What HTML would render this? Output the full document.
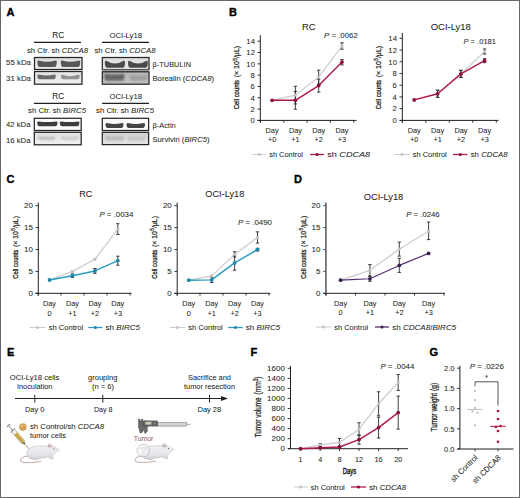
<!DOCTYPE html>
<html><head><meta charset="utf-8"><title>Figure</title>
<style>
html,body{margin:0;padding:0;background:#fff;}
body{width:520px;height:498px;overflow:hidden;}
svg{display:block;}
text{font-family:"Liberation Sans", sans-serif;fill:#231f20;stroke:#231f20;stroke-width:0.05px;}
</style></head><body>
<svg width="520" height="498" viewBox="0 0 520 498">
<defs><linearGradient id="mouseg" x1="0" y1="0" x2="0" y2="1"><stop offset="0" stop-color="#f0f0f3"/><stop offset="0.6" stop-color="#e6e6ea"/><stop offset="1" stop-color="#d2d2d8"/></linearGradient><filter id="bl" x="-20%" y="-60%" width="140%" height="220%"><feGaussianBlur stdDeviation="0.45"/></filter><filter id="bl2" x="-20%" y="-60%" width="140%" height="220%"><feGaussianBlur stdDeviation="0.9"/></filter></defs>
<rect x="0" y="0" width="520" height="498" fill="#fff"/>
<text x="6.40" y="15.80" font-size="11" font-weight="bold" style="fill:#000;stroke:#000;stroke-width:0.35px">A</text>
<text x="228.90" y="15.80" font-size="11" font-weight="bold" style="fill:#000;stroke:#000;stroke-width:0.35px">B</text>
<text x="6.40" y="182.90" font-size="11" font-weight="bold" style="fill:#000;stroke:#000;stroke-width:0.35px">C</text>
<text x="294.00" y="182.90" font-size="11" font-weight="bold" style="fill:#000;stroke:#000;stroke-width:0.35px">D</text>
<text x="6.90" y="355.80" font-size="11" font-weight="bold" style="fill:#000;stroke:#000;stroke-width:0.35px">E</text>
<text x="250.60" y="355.80" font-size="11" font-weight="bold" style="fill:#000;stroke:#000;stroke-width:0.35px">F</text>
<text x="429.50" y="355.80" font-size="11" font-weight="bold" style="fill:#000;stroke:#000;stroke-width:0.35px">G</text>
<text x="58.30" y="38.00" font-size="8.3" text-anchor="middle" >RC</text>
<line x1="34.00" y1="42.30" x2="81.00" y2="42.30" stroke="#231f20" stroke-width="1.3" />
<text x="125.70" y="38.00" font-size="8.0" text-anchor="middle" textLength="32.5" lengthAdjust="spacingAndGlyphs" >OCI-Ly18</text>
<line x1="102.00" y1="42.30" x2="149.00" y2="42.30" stroke="#231f20" stroke-width="1.3" />
<text x="27.00" y="52.50" font-size="7.4" textLength="61" lengthAdjust="spacingAndGlyphs" >sh Ctr. sh <tspan font-style="italic">CDCA8</tspan></text>
<text x="94.50" y="52.50" font-size="7.4" textLength="61" lengthAdjust="spacingAndGlyphs" >sh Ctr. sh <tspan font-style="italic">CDCA8</tspan></text>
<text x="6.00" y="65.00" font-size="7.4" textLength="25" lengthAdjust="spacingAndGlyphs" >55 kDa</text>
<text x="6.00" y="81.00" font-size="7.4" textLength="25" lengthAdjust="spacingAndGlyphs" >31 kDa</text>
<defs><linearGradient id="g15" x1="0" y1="0" x2="0" y2="1"><stop offset="0" stop-color="#dcdcdc"/><stop offset="1" stop-color="#ececec"/></linearGradient></defs>
<rect x="34.5" y="57.5" width="47.5" height="12.0" fill="url(#g15)"/>
<path d="M37.4,61.800000000000004 Q37.4,67.0 39.6,67.0 L54.599999999999994,67.0 Q56.8,67.0 56.8,61.800000000000004 Q56.8,60.6 55.4,60.6 Q47.099999999999994,62.99999999999999 38.8,60.6 Q37.4,60.6 37.4,61.800000000000004 Z" fill="#4a4a4a" opacity="0.9" filter="url(#bl)"/>
<path d="M60.8,61.800000000000004 Q60.8,67.0 63.0,67.0 L78.0,67.0 Q80.2,67.0 80.2,61.800000000000004 Q80.2,60.6 78.8,60.6 Q70.5,62.99999999999999 62.199999999999996,60.6 Q60.8,60.6 60.8,61.800000000000004 Z" fill="#4a4a4a" opacity="0.9" filter="url(#bl)"/>
<rect x="34.5" y="57.5" width="47.5" height="12.0" fill="none" stroke="#262626" stroke-width="1.25"/>
<defs><linearGradient id="g20" x1="0" y1="0" x2="0" y2="1"><stop offset="0" stop-color="#e2e2e2"/><stop offset="1" stop-color="#eeeeee"/></linearGradient></defs>
<rect x="34.5" y="71.5" width="47.5" height="12.700000000000003" fill="url(#g20)"/>
<path d="M37.4,75.8 Q37.4,79.2 39.6,79.2 L53.599999999999994,79.2 Q55.8,79.2 55.8,75.8 Q55.8,74.6 54.4,74.6 Q46.599999999999994,76.6 38.8,74.6 Q37.4,74.6 37.4,75.8 Z" fill="#4e4e4e" opacity="0.8" filter="url(#bl)"/>
<path d="M61.0,76.0 Q61.0,79.2 63.2,79.2 L77.39999999999999,79.2 Q79.6,79.2 79.6,76.0 Q79.6,74.8 78.19999999999999,74.8 Q70.3,77.60000000000001 62.4,74.8 Q61.0,74.8 61.0,76.0 Z" fill="#666" opacity="0.65" filter="url(#bl)"/>
<rect x="34.5" y="71.5" width="47.5" height="12.700000000000003" fill="none" stroke="#262626" stroke-width="1.25"/>
<defs><linearGradient id="g25" x1="0" y1="0" x2="0" y2="1"><stop offset="0" stop-color="#dedede"/><stop offset="1" stop-color="#e4e4e4"/></linearGradient></defs>
<rect x="102.3" y="57.5" width="46.7" height="12.099999999999994" fill="url(#g25)"/>
<path d="M104.9,62.0 Q104.9,67.8 107.10000000000001,67.8 L122.8,67.8 Q125.0,67.8 125.0,62.0 Q125.0,60.8 123.6,60.8 Q114.95,66.4 106.30000000000001,60.8 Q104.9,60.8 104.9,62.0 Z" fill="#3e3e3e" opacity="0.92" filter="url(#bl)"/>
<path d="M128.0,62.0 Q128.0,67.8 130.2,67.8 L145.60000000000002,67.8 Q147.8,67.8 147.8,62.0 Q147.8,60.8 146.4,60.8 Q137.9,66.4 129.4,60.8 Q128.0,60.8 128.0,62.0 Z" fill="#3e3e3e" opacity="0.92" filter="url(#bl)"/>
<rect x="102.3" y="57.5" width="46.7" height="12.099999999999994" fill="none" stroke="#262626" stroke-width="1.25"/>
<rect x="102.3" y="69.6" width="46.7" height="2.2" fill="#9a9a9a"/>
<defs><linearGradient id="g31" x1="0" y1="0" x2="0" y2="1"><stop offset="0" stop-color="#b8b8b8"/><stop offset="1" stop-color="#c2c2c2"/></linearGradient></defs>
<rect x="102.3" y="71.8" width="46.7" height="12.400000000000006" fill="url(#g31)"/>
<path d="M104.3,75.0 Q104.3,80.8 106.5,80.8 L122.3,80.8 Q124.5,80.8 124.5,75.0 Q124.5,73.8 123.1,73.8 Q114.4,74.8 105.7,73.8 Q104.3,73.8 104.3,75.0 Z" fill="#4a4a4a" opacity="0.75" filter="url(#bl2)"/>
<path d="M129.5,76.2 Q129.5,80.5 131.7,80.5 L145.3,80.5 Q147.5,80.5 147.5,76.2 Q147.5,75.0 146.1,75.0 Q138.5,76.0 130.9,75.0 Q129.5,75.0 129.5,76.2 Z" fill="#7a7a7a" opacity="0.45" filter="url(#bl2)"/>
<rect x="102.3" y="71.8" width="46.7" height="12.400000000000006" fill="none" stroke="#262626" stroke-width="1.25"/>
<text x="152.50" y="66.50" font-size="7.4" textLength="38.5" lengthAdjust="spacingAndGlyphs" >β-TUBULIN</text>
<text x="152.50" y="80.50" font-size="7.4" textLength="61.5" lengthAdjust="spacingAndGlyphs" >Borealin (<tspan font-style="italic">CDCA8</tspan>)</text>
<text x="58.30" y="99.00" font-size="8.3" text-anchor="middle" >RC</text>
<line x1="34.00" y1="103.30" x2="81.00" y2="103.30" stroke="#231f20" stroke-width="1.3" />
<text x="125.70" y="99.00" font-size="8.0" text-anchor="middle" textLength="32.5" lengthAdjust="spacingAndGlyphs" >OCI-Ly18</text>
<line x1="102.00" y1="103.30" x2="149.00" y2="103.30" stroke="#231f20" stroke-width="1.3" />
<text x="28.00" y="113.00" font-size="7.4" textLength="58" lengthAdjust="spacingAndGlyphs" >sh Ctr. sh <tspan font-style="italic">BIRC5</tspan></text>
<text x="96.00" y="113.00" font-size="7.4" textLength="58" lengthAdjust="spacingAndGlyphs" >sh Ctr. sh <tspan font-style="italic">BIRC5</tspan></text>
<text x="6.00" y="127.00" font-size="7.4" textLength="24.5" lengthAdjust="spacingAndGlyphs" >42 kDa</text>
<text x="6.00" y="143.00" font-size="7.4" textLength="24.5" lengthAdjust="spacingAndGlyphs" >16 kDa</text>
<rect x="34.3" y="118.3" width="46.900000000000006" height="12.200000000000003" fill="#fafafa"/>
<path d="M37.2,122.60000000000001 Q37.2,126.2 39.400000000000006,126.2 L55.3,126.2 Q57.5,126.2 57.5,122.60000000000001 Q57.5,121.4 56.1,121.4 Q47.35,122.4 38.6,121.4 Q37.2,121.4 37.2,122.60000000000001 Z" fill="#2e2e2e" opacity="0.92" filter="url(#bl)"/>
<path d="M59.8,122.60000000000001 Q59.8,126.2 62.0,126.2 L77.2,126.2 Q79.4,126.2 79.4,122.60000000000001 Q79.4,121.4 78.0,121.4 Q69.6,122.4 61.199999999999996,121.4 Q59.8,121.4 59.8,122.60000000000001 Z" fill="#2e2e2e" opacity="0.92" filter="url(#bl)"/>
<rect x="34.3" y="118.3" width="46.900000000000006" height="12.200000000000003" fill="none" stroke="#262626" stroke-width="1.25"/>
<defs><linearGradient id="g50" x1="0" y1="0" x2="0" y2="1"><stop offset="0" stop-color="#e2e2e2"/><stop offset="1" stop-color="#f0f0f0"/></linearGradient></defs>
<rect x="34.3" y="132.3" width="46.900000000000006" height="12.5" fill="url(#g50)"/>
<path d="M38.0,137.6 Q38.0,139.8 40.2,139.8 L53.3,139.8 Q55.5,139.8 55.5,137.6 Q55.5,136.4 54.1,136.4 Q46.75,137.20000000000002 39.4,136.4 Q38.0,136.4 38.0,137.6 Z" fill="#9a9a9a" opacity="0.6" filter="url(#bl2)"/>
<path d="M61.0,137.79999999999998 Q61.0,139.8 63.2,139.8 L76.3,139.8 Q78.5,139.8 78.5,137.79999999999998 Q78.5,136.6 77.1,136.6 Q69.75,137.4 62.4,136.6 Q61.0,136.6 61.0,137.79999999999998 Z" fill="#aaa" opacity="0.5" filter="url(#bl2)"/>
<rect x="34.3" y="132.3" width="46.900000000000006" height="12.5" fill="none" stroke="#262626" stroke-width="1.25"/>
<rect x="102.3" y="118.3" width="46.3" height="12.200000000000003" fill="#fbfbfb"/>
<path d="M105.5,124.2 Q105.5,128.0 107.7,128.0 L121.3,128.0 Q123.5,128.0 123.5,124.2 Q123.5,123.0 122.1,123.0 Q114.5,125.0 106.9,123.0 Q105.5,123.0 105.5,124.2 Z" fill="#333" opacity="0.9" filter="url(#bl)"/>
<path d="M126.5,124.2 Q126.5,128.0 128.7,128.0 L142.8,128.0 Q145.0,128.0 145.0,124.2 Q145.0,123.0 143.6,123.0 Q135.75,125.0 127.9,123.0 Q126.5,123.0 126.5,124.2 Z" fill="#333" opacity="0.9" filter="url(#bl)"/>
<rect x="102.3" y="118.3" width="46.3" height="12.200000000000003" fill="none" stroke="#262626" stroke-width="1.25"/>
<defs><linearGradient id="g59" x1="0" y1="0" x2="0" y2="1"><stop offset="0" stop-color="#d2d2d2"/><stop offset="1" stop-color="#e6e6e6"/></linearGradient></defs>
<rect x="102.3" y="132.3" width="46.3" height="12.299999999999983" fill="url(#g59)"/>
<path d="M105.0,137.0 Q105.0,140.8 107.2,140.8 L121.8,140.8 Q124.0,140.8 124.0,137.0 Q124.0,135.8 122.6,135.8 Q114.5,136.59999999999997 106.4,135.8 Q105.0,135.8 105.0,137.0 Z" fill="#a8a8a8" opacity="0.6" filter="url(#bl2)"/>
<path d="M127.5,137.5 Q127.5,140.8 129.7,140.8 L143.3,140.8 Q145.5,140.8 145.5,137.5 Q145.5,136.3 144.1,136.3 Q136.5,136.89999999999998 128.9,136.3 Q127.5,136.3 127.5,137.5 Z" fill="#b0b0b0" opacity="0.5" filter="url(#bl2)"/>
<rect x="102.3" y="132.3" width="46.3" height="12.299999999999983" fill="none" stroke="#262626" stroke-width="1.25"/>
<text x="152.50" y="127.50" font-size="7.4" >β-Actin</text>
<text x="152.50" y="141.50" font-size="7.4" textLength="57" lengthAdjust="spacingAndGlyphs" >Survivin (<tspan font-style="italic">BIRC5</tspan>)</text>
<text x="308.70" y="29.90" font-size="9.6" text-anchor="middle" textLength="13.6" lengthAdjust="spacingAndGlyphs" >RC</text>
<line x1="260.30" y1="35.20" x2="260.30" y2="122.60" stroke="#231f20" stroke-width="1.0" />
<line x1="257.50" y1="120.40" x2="260.30" y2="120.40" stroke="#231f20" stroke-width="0.9" />
<text x="254.90" y="123.15" font-size="6.4" text-anchor="end" textLength="4.27" lengthAdjust="spacingAndGlyphs" >0</text>
<line x1="257.50" y1="109.09" x2="260.30" y2="109.09" stroke="#231f20" stroke-width="0.9" />
<text x="254.90" y="111.84" font-size="6.4" text-anchor="end" textLength="4.27" lengthAdjust="spacingAndGlyphs" >2</text>
<line x1="257.50" y1="97.77" x2="260.30" y2="97.77" stroke="#231f20" stroke-width="0.9" />
<text x="254.90" y="100.52" font-size="6.4" text-anchor="end" textLength="4.27" lengthAdjust="spacingAndGlyphs" >4</text>
<line x1="257.50" y1="86.46" x2="260.30" y2="86.46" stroke="#231f20" stroke-width="0.9" />
<text x="254.90" y="89.21" font-size="6.4" text-anchor="end" textLength="4.27" lengthAdjust="spacingAndGlyphs" >6</text>
<line x1="257.50" y1="75.14" x2="260.30" y2="75.14" stroke="#231f20" stroke-width="0.9" />
<text x="254.90" y="77.90" font-size="6.4" text-anchor="end" textLength="4.27" lengthAdjust="spacingAndGlyphs" >8</text>
<line x1="257.50" y1="63.83" x2="260.30" y2="63.83" stroke="#231f20" stroke-width="0.9" />
<text x="254.90" y="66.58" font-size="6.4" text-anchor="end" textLength="8.54" lengthAdjust="spacingAndGlyphs" >10</text>
<line x1="257.50" y1="52.52" x2="260.30" y2="52.52" stroke="#231f20" stroke-width="0.9" />
<text x="254.90" y="55.27" font-size="6.4" text-anchor="end" textLength="8.54" lengthAdjust="spacingAndGlyphs" >12</text>
<line x1="257.50" y1="41.20" x2="260.30" y2="41.20" stroke="#231f20" stroke-width="0.9" />
<text x="254.90" y="43.95" font-size="6.4" text-anchor="end" textLength="8.54" lengthAdjust="spacingAndGlyphs" >14</text>
<line x1="257.70" y1="120.40" x2="356.50" y2="120.40" stroke="#231f20" stroke-width="1.0" />
<line x1="260.50" y1="120.40" x2="260.50" y2="122.70" stroke="#231f20" stroke-width="0.9" />
<line x1="283.80" y1="120.40" x2="283.80" y2="122.70" stroke="#231f20" stroke-width="0.9" />
<line x1="307.10" y1="120.40" x2="307.10" y2="122.70" stroke="#231f20" stroke-width="0.9" />
<line x1="330.40" y1="120.40" x2="330.40" y2="122.70" stroke="#231f20" stroke-width="0.9" />
<line x1="353.70" y1="120.40" x2="353.70" y2="122.70" stroke="#231f20" stroke-width="0.9" />
<polyline points="272.10,100.32 295.40,95.11 318.70,77.18 342.00,46.01" fill="none" stroke="#cbcbcb" stroke-width="1.2" stroke-linejoin="round"/>
<polyline points="272.10,100.32 295.40,100.32 318.70,85.61 342.00,62.08" fill="none" stroke="#b01a48" stroke-width="1.45" stroke-linejoin="round"/>
<line x1="295.40" y1="86.29" x2="295.40" y2="103.94" stroke="#2b2b2b" stroke-width="0.9" />
<line x1="293.70" y1="86.29" x2="297.10" y2="86.29" stroke="#2b2b2b" stroke-width="0.9" />
<line x1="293.70" y1="103.94" x2="297.10" y2="103.94" stroke="#2b2b2b" stroke-width="0.9" />
<line x1="318.70" y1="70.17" x2="318.70" y2="84.20" stroke="#2b2b2b" stroke-width="0.9" />
<line x1="317.00" y1="70.17" x2="320.40" y2="70.17" stroke="#2b2b2b" stroke-width="0.9" />
<line x1="317.00" y1="84.20" x2="320.40" y2="84.20" stroke="#2b2b2b" stroke-width="0.9" />
<line x1="342.00" y1="42.79" x2="342.00" y2="49.23" stroke="#2b2b2b" stroke-width="0.9" />
<line x1="340.30" y1="42.79" x2="343.70" y2="42.79" stroke="#2b2b2b" stroke-width="0.9" />
<line x1="340.30" y1="49.23" x2="343.70" y2="49.23" stroke="#2b2b2b" stroke-width="0.9" />
<line x1="295.40" y1="91.44" x2="295.40" y2="109.20" stroke="#2b2b2b" stroke-width="0.9" />
<line x1="293.70" y1="91.44" x2="297.10" y2="91.44" stroke="#2b2b2b" stroke-width="0.9" />
<line x1="293.70" y1="109.20" x2="297.10" y2="109.20" stroke="#2b2b2b" stroke-width="0.9" />
<line x1="318.70" y1="79.10" x2="318.70" y2="92.12" stroke="#2b2b2b" stroke-width="0.9" />
<line x1="317.00" y1="79.10" x2="320.40" y2="79.10" stroke="#2b2b2b" stroke-width="0.9" />
<line x1="317.00" y1="92.12" x2="320.40" y2="92.12" stroke="#2b2b2b" stroke-width="0.9" />
<line x1="342.00" y1="59.53" x2="342.00" y2="64.90" stroke="#2b2b2b" stroke-width="0.9" />
<line x1="340.30" y1="59.53" x2="343.70" y2="59.53" stroke="#2b2b2b" stroke-width="0.9" />
<line x1="340.30" y1="64.90" x2="343.70" y2="64.90" stroke="#2b2b2b" stroke-width="0.9" />
<rect x="270.65" y="98.87" width="2.9" height="2.9" fill="#c2c2c2"/>
<rect x="293.95" y="93.66" width="2.9" height="2.9" fill="#c2c2c2"/>
<rect x="317.25" y="75.73" width="2.9" height="2.9" fill="#c2c2c2"/>
<rect x="340.55" y="44.56" width="2.9" height="2.9" fill="#c2c2c2"/>
<circle cx="272.10" cy="100.32" r="1.9" fill="#8a1038"/>
<circle cx="295.40" cy="100.32" r="1.9" fill="#8a1038"/>
<circle cx="318.70" cy="85.61" r="1.9" fill="#8a1038"/>
<circle cx="342.00" cy="62.08" r="1.9" fill="#8a1038"/>
<text x="272.10" y="132.50" font-size="7.3" text-anchor="middle" >Day</text>
<text x="272.10" y="142.00" font-size="7.3" text-anchor="middle" >+0</text>
<text x="295.40" y="132.50" font-size="7.3" text-anchor="middle" >Day</text>
<text x="295.40" y="142.00" font-size="7.3" text-anchor="middle" >+1</text>
<text x="318.70" y="132.50" font-size="7.3" text-anchor="middle" >Day</text>
<text x="318.70" y="142.00" font-size="7.3" text-anchor="middle" >+2</text>
<text x="342.00" y="132.50" font-size="7.3" text-anchor="middle" >Day</text>
<text x="342.00" y="142.00" font-size="7.3" text-anchor="middle" >+3</text>
<text transform="translate(239.20,109.21) rotate(-90)" x="0" y="0" font-size="8.0" textLength="29.28" lengthAdjust="spacingAndGlyphs" style="stroke-width:0.3px">Cell counts</text>
<text transform="translate(239.20,77.24) rotate(-90)" x="0" y="0" font-size="7.8" textLength="31.35" lengthAdjust="spacingAndGlyphs" style="stroke-width:0.25px">(× 10<tspan dy="-2.7" dx="0.3" font-size="5.6">5</tspan><tspan dy="2.7">/μL)</tspan></text>
<text x="324.00" y="38.40" font-size="6.8" textLength="33.8" lengthAdjust="spacingAndGlyphs" ><tspan font-style="italic">P</tspan> = .0062</text>
<line x1="252.30" y1="154.50" x2="266.00" y2="154.50" stroke="#cbcbcb" stroke-width="1.0" />
<rect x="257.85" y="153.20" width="2.6" height="2.6" fill="#c2c2c2"/>
<text x="269.20" y="157.20" font-size="7.5" textLength="33.8" lengthAdjust="spacingAndGlyphs" >sh Control</text>
<line x1="310.00" y1="154.50" x2="324.00" y2="154.50" stroke="#b01a48" stroke-width="1.3" />
<circle cx="317.00" cy="154.50" r="1.6" fill="#8a1038"/>
<text x="327.20" y="157.20" font-size="7.5" textLength="43" lengthAdjust="spacingAndGlyphs" >sh <tspan font-style="italic">CDCA8</tspan></text>
<text x="450.75" y="29.90" font-size="9.6" text-anchor="middle" textLength="40" lengthAdjust="spacingAndGlyphs" >OCI-Ly18</text>
<line x1="402.30" y1="33.00" x2="402.30" y2="122.60" stroke="#231f20" stroke-width="1.0" />
<line x1="399.50" y1="120.40" x2="402.30" y2="120.40" stroke="#231f20" stroke-width="0.9" />
<text x="396.90" y="123.15" font-size="6.4" text-anchor="end" textLength="4.27" lengthAdjust="spacingAndGlyphs" >0</text>
<line x1="399.50" y1="108.67" x2="402.30" y2="108.67" stroke="#231f20" stroke-width="0.9" />
<text x="396.90" y="111.42" font-size="6.4" text-anchor="end" textLength="4.27" lengthAdjust="spacingAndGlyphs" >2</text>
<line x1="399.50" y1="96.94" x2="402.30" y2="96.94" stroke="#231f20" stroke-width="0.9" />
<text x="396.90" y="99.70" font-size="6.4" text-anchor="end" textLength="4.27" lengthAdjust="spacingAndGlyphs" >4</text>
<line x1="399.50" y1="85.22" x2="402.30" y2="85.22" stroke="#231f20" stroke-width="0.9" />
<text x="396.90" y="87.97" font-size="6.4" text-anchor="end" textLength="4.27" lengthAdjust="spacingAndGlyphs" >6</text>
<line x1="399.50" y1="73.49" x2="402.30" y2="73.49" stroke="#231f20" stroke-width="0.9" />
<text x="396.90" y="76.24" font-size="6.4" text-anchor="end" textLength="4.27" lengthAdjust="spacingAndGlyphs" >8</text>
<line x1="399.50" y1="61.76" x2="402.30" y2="61.76" stroke="#231f20" stroke-width="0.9" />
<text x="396.90" y="64.51" font-size="6.4" text-anchor="end" textLength="8.54" lengthAdjust="spacingAndGlyphs" >10</text>
<line x1="399.50" y1="50.03" x2="402.30" y2="50.03" stroke="#231f20" stroke-width="0.9" />
<text x="396.90" y="52.78" font-size="6.4" text-anchor="end" textLength="8.54" lengthAdjust="spacingAndGlyphs" >12</text>
<line x1="399.50" y1="38.30" x2="402.30" y2="38.30" stroke="#231f20" stroke-width="0.9" />
<text x="396.90" y="41.06" font-size="6.4" text-anchor="end" textLength="8.54" lengthAdjust="spacingAndGlyphs" >14</text>
<line x1="399.70" y1="120.40" x2="498.50" y2="120.40" stroke="#231f20" stroke-width="1.0" />
<line x1="402.30" y1="120.40" x2="402.30" y2="122.70" stroke="#231f20" stroke-width="0.9" />
<line x1="425.80" y1="120.40" x2="425.80" y2="122.70" stroke="#231f20" stroke-width="0.9" />
<line x1="449.30" y1="120.40" x2="449.30" y2="122.70" stroke="#231f20" stroke-width="0.9" />
<line x1="472.80" y1="120.40" x2="472.80" y2="122.70" stroke="#231f20" stroke-width="0.9" />
<line x1="496.30" y1="120.40" x2="496.30" y2="122.70" stroke="#231f20" stroke-width="0.9" />
<polyline points="414.20,99.88 437.60,93.78 460.90,73.90 484.60,51.50" fill="none" stroke="#cbcbcb" stroke-width="1.2" stroke-linejoin="round"/>
<polyline points="414.20,99.88 437.60,93.78 460.90,73.90 484.60,60.70" fill="none" stroke="#b01a48" stroke-width="1.45" stroke-linejoin="round"/>
<line x1="437.60" y1="90.26" x2="437.60" y2="97.30" stroke="#2b2b2b" stroke-width="0.9" />
<line x1="435.90" y1="90.26" x2="439.30" y2="90.26" stroke="#2b2b2b" stroke-width="0.9" />
<line x1="435.90" y1="97.30" x2="439.30" y2="97.30" stroke="#2b2b2b" stroke-width="0.9" />
<line x1="460.90" y1="70.38" x2="460.90" y2="77.42" stroke="#2b2b2b" stroke-width="0.9" />
<line x1="459.20" y1="70.38" x2="462.60" y2="70.38" stroke="#2b2b2b" stroke-width="0.9" />
<line x1="459.20" y1="77.42" x2="462.60" y2="77.42" stroke="#2b2b2b" stroke-width="0.9" />
<line x1="484.60" y1="48.98" x2="484.60" y2="54.02" stroke="#2b2b2b" stroke-width="0.9" />
<line x1="482.90" y1="48.98" x2="486.30" y2="48.98" stroke="#2b2b2b" stroke-width="0.9" />
<line x1="482.90" y1="54.02" x2="486.30" y2="54.02" stroke="#2b2b2b" stroke-width="0.9" />
<line x1="437.60" y1="90.26" x2="437.60" y2="97.30" stroke="#2b2b2b" stroke-width="0.9" />
<line x1="435.90" y1="90.26" x2="439.30" y2="90.26" stroke="#2b2b2b" stroke-width="0.9" />
<line x1="435.90" y1="97.30" x2="439.30" y2="97.30" stroke="#2b2b2b" stroke-width="0.9" />
<line x1="460.90" y1="70.38" x2="460.90" y2="77.42" stroke="#2b2b2b" stroke-width="0.9" />
<line x1="459.20" y1="70.38" x2="462.60" y2="70.38" stroke="#2b2b2b" stroke-width="0.9" />
<line x1="459.20" y1="77.42" x2="462.60" y2="77.42" stroke="#2b2b2b" stroke-width="0.9" />
<line x1="484.60" y1="58.71" x2="484.60" y2="62.70" stroke="#2b2b2b" stroke-width="0.9" />
<line x1="482.90" y1="58.71" x2="486.30" y2="58.71" stroke="#2b2b2b" stroke-width="0.9" />
<line x1="482.90" y1="62.70" x2="486.30" y2="62.70" stroke="#2b2b2b" stroke-width="0.9" />
<rect x="412.75" y="98.43" width="2.9" height="2.9" fill="#c2c2c2"/>
<rect x="436.15" y="92.33" width="2.9" height="2.9" fill="#c2c2c2"/>
<rect x="459.45" y="72.45" width="2.9" height="2.9" fill="#c2c2c2"/>
<rect x="483.15" y="50.05" width="2.9" height="2.9" fill="#c2c2c2"/>
<circle cx="414.20" cy="99.88" r="1.9" fill="#8a1038"/>
<circle cx="437.60" cy="93.78" r="1.9" fill="#8a1038"/>
<circle cx="460.90" cy="73.90" r="1.9" fill="#8a1038"/>
<circle cx="484.60" cy="60.70" r="1.9" fill="#8a1038"/>
<text x="414.20" y="132.50" font-size="7.3" text-anchor="middle" >Day</text>
<text x="414.20" y="142.00" font-size="7.3" text-anchor="middle" >+0</text>
<text x="437.60" y="132.50" font-size="7.3" text-anchor="middle" >Day</text>
<text x="437.60" y="142.00" font-size="7.3" text-anchor="middle" >+1</text>
<text x="460.90" y="132.50" font-size="7.3" text-anchor="middle" >Day</text>
<text x="460.90" y="142.00" font-size="7.3" text-anchor="middle" >+2</text>
<text x="484.60" y="132.50" font-size="7.3" text-anchor="middle" >Day</text>
<text x="484.60" y="142.00" font-size="7.3" text-anchor="middle" >+3</text>
<text transform="translate(380.80,109.21) rotate(-90)" x="0" y="0" font-size="8.0" textLength="29.28" lengthAdjust="spacingAndGlyphs" style="stroke-width:0.3px">Cell counts</text>
<text transform="translate(380.80,77.24) rotate(-90)" x="0" y="0" font-size="7.8" textLength="31.35" lengthAdjust="spacingAndGlyphs" style="stroke-width:0.25px">(× 10<tspan dy="-2.7" dx="0.3" font-size="5.6">5</tspan><tspan dy="2.7">/μL)</tspan></text>
<text x="463.50" y="44.00" font-size="6.8" textLength="32.5" lengthAdjust="spacingAndGlyphs" ><tspan font-style="italic">P</tspan> = .0181</text>
<line x1="394.50" y1="154.50" x2="409.50" y2="154.50" stroke="#cbcbcb" stroke-width="1.0" />
<rect x="400.70" y="153.20" width="2.6" height="2.6" fill="#c2c2c2"/>
<text x="412.70" y="157.20" font-size="7.5" textLength="34" lengthAdjust="spacingAndGlyphs" >sh Control</text>
<line x1="453.00" y1="154.50" x2="467.50" y2="154.50" stroke="#b01a48" stroke-width="1.3" />
<circle cx="460.25" cy="154.50" r="1.6" fill="#8a1038"/>
<text x="470.70" y="157.20" font-size="7.5" textLength="37" lengthAdjust="spacingAndGlyphs" >sh <tspan font-style="italic">CDCA8</tspan></text>
<text x="85.75" y="196.90" font-size="9.6" text-anchor="middle" textLength="13.2" lengthAdjust="spacingAndGlyphs" >RC</text>
<line x1="38.30" y1="202.50" x2="38.30" y2="295.60" stroke="#231f20" stroke-width="1.0" />
<line x1="35.50" y1="293.30" x2="38.30" y2="293.30" stroke="#231f20" stroke-width="0.9" />
<text x="32.90" y="296.05" font-size="6.4" text-anchor="end" textLength="4.45" lengthAdjust="spacingAndGlyphs" >0</text>
<line x1="35.50" y1="271.40" x2="38.30" y2="271.40" stroke="#231f20" stroke-width="0.9" />
<text x="32.90" y="274.15" font-size="6.4" text-anchor="end" textLength="4.45" lengthAdjust="spacingAndGlyphs" >5</text>
<line x1="35.50" y1="249.50" x2="38.30" y2="249.50" stroke="#231f20" stroke-width="0.9" />
<text x="32.90" y="252.25" font-size="6.4" text-anchor="end" textLength="8.9" lengthAdjust="spacingAndGlyphs" >10</text>
<line x1="35.50" y1="227.60" x2="38.30" y2="227.60" stroke="#231f20" stroke-width="0.9" />
<text x="32.90" y="230.35" font-size="6.4" text-anchor="end" textLength="8.9" lengthAdjust="spacingAndGlyphs" >15</text>
<line x1="35.50" y1="205.70" x2="38.30" y2="205.70" stroke="#231f20" stroke-width="0.9" />
<text x="32.90" y="208.45" font-size="6.4" text-anchor="end" textLength="8.9" lengthAdjust="spacingAndGlyphs" >20</text>
<line x1="35.50" y1="293.30" x2="131.50" y2="293.30" stroke="#231f20" stroke-width="1.0" />
<line x1="38.30" y1="293.30" x2="38.30" y2="295.60" stroke="#231f20" stroke-width="0.9" />
<line x1="61.00" y1="293.30" x2="61.00" y2="295.60" stroke="#231f20" stroke-width="0.9" />
<line x1="84.00" y1="293.30" x2="84.00" y2="295.60" stroke="#231f20" stroke-width="0.9" />
<line x1="107.00" y1="293.30" x2="107.00" y2="295.60" stroke="#231f20" stroke-width="0.9" />
<line x1="130.00" y1="293.30" x2="130.00" y2="295.60" stroke="#231f20" stroke-width="0.9" />
<polyline points="49.50,279.98 72.40,271.40 94.90,259.31 117.80,229.09" fill="none" stroke="#cbcbcb" stroke-width="1.2" stroke-linejoin="round"/>
<polyline points="49.50,279.98 72.40,275.69 94.90,270.92 117.80,260.71" fill="none" stroke="#2a9cc0" stroke-width="1.45" stroke-linejoin="round"/>
<line x1="117.80" y1="223.70" x2="117.80" y2="234.48" stroke="#2b2b2b" stroke-width="0.9" />
<line x1="116.10" y1="223.70" x2="119.50" y2="223.70" stroke="#2b2b2b" stroke-width="0.9" />
<line x1="116.10" y1="234.48" x2="119.50" y2="234.48" stroke="#2b2b2b" stroke-width="0.9" />
<line x1="72.40" y1="273.94" x2="72.40" y2="277.44" stroke="#2b2b2b" stroke-width="0.9" />
<line x1="70.70" y1="273.94" x2="74.10" y2="273.94" stroke="#2b2b2b" stroke-width="0.9" />
<line x1="70.70" y1="277.44" x2="74.10" y2="277.44" stroke="#2b2b2b" stroke-width="0.9" />
<line x1="94.90" y1="268.47" x2="94.90" y2="273.37" stroke="#2b2b2b" stroke-width="0.9" />
<line x1="93.20" y1="268.47" x2="96.60" y2="268.47" stroke="#2b2b2b" stroke-width="0.9" />
<line x1="93.20" y1="273.37" x2="96.60" y2="273.37" stroke="#2b2b2b" stroke-width="0.9" />
<line x1="117.80" y1="256.20" x2="117.80" y2="265.22" stroke="#2b2b2b" stroke-width="0.9" />
<line x1="116.10" y1="256.20" x2="119.50" y2="256.20" stroke="#2b2b2b" stroke-width="0.9" />
<line x1="116.10" y1="265.22" x2="119.50" y2="265.22" stroke="#2b2b2b" stroke-width="0.9" />
<rect x="48.05" y="278.53" width="2.9" height="2.9" fill="#c2c2c2"/>
<rect x="70.95" y="269.95" width="2.9" height="2.9" fill="#c2c2c2"/>
<rect x="93.45" y="257.86" width="2.9" height="2.9" fill="#c2c2c2"/>
<rect x="116.35" y="227.64" width="2.9" height="2.9" fill="#c2c2c2"/>
<circle cx="49.50" cy="279.98" r="1.9" fill="#1f88aa"/>
<circle cx="72.40" cy="275.69" r="1.9" fill="#1f88aa"/>
<circle cx="94.90" cy="270.92" r="1.9" fill="#1f88aa"/>
<circle cx="117.80" cy="260.71" r="1.9" fill="#1f88aa"/>
<text x="49.50" y="306.00" font-size="7.3" text-anchor="middle" >Day</text>
<text x="49.50" y="316.00" font-size="7.3" text-anchor="middle" >0</text>
<text x="72.40" y="306.00" font-size="7.3" text-anchor="middle" >Day</text>
<text x="72.40" y="316.00" font-size="7.3" text-anchor="middle" >+1</text>
<text x="94.90" y="306.00" font-size="7.3" text-anchor="middle" >Day</text>
<text x="94.90" y="316.00" font-size="7.3" text-anchor="middle" >+2</text>
<text x="117.80" y="306.00" font-size="7.3" text-anchor="middle" >Day</text>
<text x="117.80" y="316.00" font-size="7.3" text-anchor="middle" >+3</text>
<text transform="translate(17.90,278.71) rotate(-90)" x="0" y="0" font-size="8.0" textLength="29.00" lengthAdjust="spacingAndGlyphs" style="stroke-width:0.3px">Cell counts</text>
<text transform="translate(17.90,247.04) rotate(-90)" x="0" y="0" font-size="7.8" textLength="31.05" lengthAdjust="spacingAndGlyphs" style="stroke-width:0.25px">(× 10<tspan dy="-2.7" dx="0.3" font-size="5.6">5</tspan><tspan dy="2.7">/μL)</tspan></text>
<text x="99.40" y="217.00" font-size="6.8" textLength="34" lengthAdjust="spacingAndGlyphs" ><tspan font-style="italic">P</tspan> = .0034</text>
<line x1="29.80" y1="327.50" x2="45.50" y2="327.50" stroke="#cbcbcb" stroke-width="1.0" />
<rect x="36.35" y="326.20" width="2.6" height="2.6" fill="#c2c2c2"/>
<text x="48.70" y="330.20" font-size="7.5" textLength="34.5" lengthAdjust="spacingAndGlyphs" >sh Control</text>
<line x1="88.30" y1="327.50" x2="102.40" y2="327.50" stroke="#2a9cc0" stroke-width="1.3" />
<circle cx="95.35" cy="327.50" r="1.6" fill="#1f88aa"/>
<text x="105.60" y="330.20" font-size="7.5" textLength="34.5" lengthAdjust="spacingAndGlyphs" >sh <tspan font-style="italic">BIRC5</tspan></text>
<text x="224.75" y="196.90" font-size="9.6" text-anchor="middle" textLength="39" lengthAdjust="spacingAndGlyphs" >OCI-Ly18</text>
<line x1="177.20" y1="202.50" x2="177.20" y2="295.60" stroke="#231f20" stroke-width="1.0" />
<line x1="174.40" y1="293.30" x2="177.20" y2="293.30" stroke="#231f20" stroke-width="0.9" />
<text x="171.80" y="296.05" font-size="6.4" text-anchor="end" textLength="4.45" lengthAdjust="spacingAndGlyphs" >0</text>
<line x1="174.40" y1="271.40" x2="177.20" y2="271.40" stroke="#231f20" stroke-width="0.9" />
<text x="171.80" y="274.15" font-size="6.4" text-anchor="end" textLength="4.45" lengthAdjust="spacingAndGlyphs" >5</text>
<line x1="174.40" y1="249.50" x2="177.20" y2="249.50" stroke="#231f20" stroke-width="0.9" />
<text x="171.80" y="252.25" font-size="6.4" text-anchor="end" textLength="8.9" lengthAdjust="spacingAndGlyphs" >10</text>
<line x1="174.40" y1="227.60" x2="177.20" y2="227.60" stroke="#231f20" stroke-width="0.9" />
<text x="171.80" y="230.35" font-size="6.4" text-anchor="end" textLength="8.9" lengthAdjust="spacingAndGlyphs" >15</text>
<line x1="174.40" y1="205.70" x2="177.20" y2="205.70" stroke="#231f20" stroke-width="0.9" />
<text x="171.80" y="208.45" font-size="6.4" text-anchor="end" textLength="8.9" lengthAdjust="spacingAndGlyphs" >20</text>
<line x1="174.40" y1="293.30" x2="270.50" y2="293.30" stroke="#231f20" stroke-width="1.0" />
<line x1="177.20" y1="293.30" x2="177.20" y2="295.60" stroke="#231f20" stroke-width="0.9" />
<line x1="200.00" y1="293.30" x2="200.00" y2="295.60" stroke="#231f20" stroke-width="0.9" />
<line x1="223.00" y1="293.30" x2="223.00" y2="295.60" stroke="#231f20" stroke-width="0.9" />
<line x1="246.00" y1="293.30" x2="246.00" y2="295.60" stroke="#231f20" stroke-width="0.9" />
<line x1="269.00" y1="293.30" x2="269.00" y2="295.60" stroke="#231f20" stroke-width="0.9" />
<polyline points="188.80,280.20 211.70,275.91 234.60,254.41 257.50,237.50" fill="none" stroke="#cbcbcb" stroke-width="1.2" stroke-linejoin="round"/>
<polyline points="188.80,280.20 211.70,279.90 234.60,262.90 257.50,249.59" fill="none" stroke="#2a9cc0" stroke-width="1.45" stroke-linejoin="round"/>
<line x1="234.60" y1="251.78" x2="234.60" y2="257.03" stroke="#2b2b2b" stroke-width="0.9" />
<line x1="232.90" y1="251.78" x2="236.30" y2="251.78" stroke="#2b2b2b" stroke-width="0.9" />
<line x1="232.90" y1="257.03" x2="236.30" y2="257.03" stroke="#2b2b2b" stroke-width="0.9" />
<line x1="257.50" y1="231.89" x2="257.50" y2="243.11" stroke="#2b2b2b" stroke-width="0.9" />
<line x1="255.80" y1="231.89" x2="259.20" y2="231.89" stroke="#2b2b2b" stroke-width="0.9" />
<line x1="255.80" y1="243.11" x2="259.20" y2="243.11" stroke="#2b2b2b" stroke-width="0.9" />
<line x1="211.70" y1="277.27" x2="211.70" y2="282.53" stroke="#2b2b2b" stroke-width="0.9" />
<line x1="210.00" y1="277.27" x2="213.40" y2="277.27" stroke="#2b2b2b" stroke-width="0.9" />
<line x1="210.00" y1="282.53" x2="213.40" y2="282.53" stroke="#2b2b2b" stroke-width="0.9" />
<line x1="234.60" y1="255.59" x2="234.60" y2="270.22" stroke="#2b2b2b" stroke-width="0.9" />
<line x1="232.90" y1="255.59" x2="236.30" y2="255.59" stroke="#2b2b2b" stroke-width="0.9" />
<line x1="232.90" y1="270.22" x2="236.30" y2="270.22" stroke="#2b2b2b" stroke-width="0.9" />
<line x1="257.50" y1="248.27" x2="257.50" y2="250.90" stroke="#2b2b2b" stroke-width="0.9" />
<line x1="255.80" y1="248.27" x2="259.20" y2="248.27" stroke="#2b2b2b" stroke-width="0.9" />
<line x1="255.80" y1="250.90" x2="259.20" y2="250.90" stroke="#2b2b2b" stroke-width="0.9" />
<rect x="187.35" y="278.75" width="2.9" height="2.9" fill="#c2c2c2"/>
<rect x="210.25" y="274.46" width="2.9" height="2.9" fill="#c2c2c2"/>
<rect x="233.15" y="252.96" width="2.9" height="2.9" fill="#c2c2c2"/>
<rect x="256.05" y="236.05" width="2.9" height="2.9" fill="#c2c2c2"/>
<circle cx="188.80" cy="280.20" r="1.9" fill="#1f88aa"/>
<circle cx="211.70" cy="279.90" r="1.9" fill="#1f88aa"/>
<circle cx="234.60" cy="262.90" r="1.9" fill="#1f88aa"/>
<circle cx="257.50" cy="249.59" r="1.9" fill="#1f88aa"/>
<rect x="255.80" y="247.89" width="3.4" height="3.4" fill="#1f88aa"/>
<text x="188.80" y="306.00" font-size="7.3" text-anchor="middle" >Day</text>
<text x="188.80" y="316.00" font-size="7.3" text-anchor="middle" >0</text>
<text x="211.70" y="306.00" font-size="7.3" text-anchor="middle" >Day</text>
<text x="211.70" y="316.00" font-size="7.3" text-anchor="middle" >+1</text>
<text x="234.60" y="306.00" font-size="7.3" text-anchor="middle" >Day</text>
<text x="234.60" y="316.00" font-size="7.3" text-anchor="middle" >+2</text>
<text x="257.50" y="306.00" font-size="7.3" text-anchor="middle" >Day</text>
<text x="257.50" y="316.00" font-size="7.3" text-anchor="middle" >+3</text>
<text transform="translate(156.80,278.71) rotate(-90)" x="0" y="0" font-size="8.0" textLength="29.00" lengthAdjust="spacingAndGlyphs" style="stroke-width:0.3px">Cell counts</text>
<text transform="translate(156.80,247.04) rotate(-90)" x="0" y="0" font-size="7.8" textLength="31.05" lengthAdjust="spacingAndGlyphs" style="stroke-width:0.25px">(× 10<tspan dy="-2.7" dx="0.3" font-size="5.6">5</tspan><tspan dy="2.7">/μL)</tspan></text>
<text x="238.00" y="224.50" font-size="6.8" textLength="34" lengthAdjust="spacingAndGlyphs" ><tspan font-style="italic">P</tspan> = .0490</text>
<line x1="169.80" y1="327.50" x2="185.00" y2="327.50" stroke="#cbcbcb" stroke-width="1.0" />
<rect x="176.10" y="326.20" width="2.6" height="2.6" fill="#c2c2c2"/>
<text x="188.20" y="330.20" font-size="7.5" textLength="34.5" lengthAdjust="spacingAndGlyphs" >sh Control</text>
<line x1="228.20" y1="327.50" x2="242.60" y2="327.50" stroke="#2a9cc0" stroke-width="1.3" />
<circle cx="235.40" cy="327.50" r="1.6" fill="#1f88aa"/>
<text x="245.80" y="330.20" font-size="7.5" textLength="34.5" lengthAdjust="spacingAndGlyphs" >sh <tspan font-style="italic">BIRC5</tspan></text>
<text x="383.50" y="199.90" font-size="9.6" text-anchor="middle" textLength="39.5" lengthAdjust="spacingAndGlyphs" >OCI-Ly18</text>
<line x1="325.90" y1="202.40" x2="325.90" y2="295.60" stroke="#4a4a4a" stroke-width="1.4" />
<line x1="323.10" y1="293.30" x2="325.90" y2="293.30" stroke="#4a4a4a" stroke-width="0.9" />
<text x="320.50" y="296.05" font-size="6.4" text-anchor="end" textLength="4.45" lengthAdjust="spacingAndGlyphs" >0</text>
<line x1="323.10" y1="271.40" x2="325.90" y2="271.40" stroke="#4a4a4a" stroke-width="0.9" />
<text x="320.50" y="274.15" font-size="6.4" text-anchor="end" textLength="4.45" lengthAdjust="spacingAndGlyphs" >5</text>
<line x1="323.10" y1="249.50" x2="325.90" y2="249.50" stroke="#4a4a4a" stroke-width="0.9" />
<text x="320.50" y="252.25" font-size="6.4" text-anchor="end" textLength="8.9" lengthAdjust="spacingAndGlyphs" >10</text>
<line x1="323.10" y1="227.60" x2="325.90" y2="227.60" stroke="#4a4a4a" stroke-width="0.9" />
<text x="320.50" y="230.35" font-size="6.4" text-anchor="end" textLength="8.9" lengthAdjust="spacingAndGlyphs" >15</text>
<line x1="323.10" y1="205.70" x2="325.90" y2="205.70" stroke="#4a4a4a" stroke-width="0.9" />
<text x="320.50" y="208.45" font-size="6.4" text-anchor="end" textLength="8.9" lengthAdjust="spacingAndGlyphs" >20</text>
<line x1="323.30" y1="293.30" x2="445.00" y2="293.30" stroke="#231f20" stroke-width="1.0" />
<line x1="326.00" y1="293.30" x2="326.00" y2="295.60" stroke="#231f20" stroke-width="0.9" />
<line x1="355.50" y1="293.30" x2="355.50" y2="295.60" stroke="#231f20" stroke-width="0.9" />
<line x1="385.00" y1="293.30" x2="385.00" y2="295.60" stroke="#231f20" stroke-width="0.9" />
<line x1="414.50" y1="293.30" x2="414.50" y2="295.60" stroke="#231f20" stroke-width="0.9" />
<line x1="444.00" y1="293.30" x2="444.00" y2="295.60" stroke="#231f20" stroke-width="0.9" />
<polyline points="340.60,280.16 369.90,270.31 399.30,249.11 428.60,231.19" fill="none" stroke="#cbcbcb" stroke-width="1.2" stroke-linejoin="round"/>
<polyline points="340.60,280.16 369.90,278.80 399.30,265.40 428.60,253.40" fill="none" stroke="#523072" stroke-width="1.15" stroke-linejoin="round"/>
<line x1="369.90" y1="264.61" x2="369.90" y2="276.00" stroke="#2b2b2b" stroke-width="0.9" />
<line x1="368.20" y1="264.61" x2="371.60" y2="264.61" stroke="#2b2b2b" stroke-width="0.9" />
<line x1="368.20" y1="276.00" x2="371.60" y2="276.00" stroke="#2b2b2b" stroke-width="0.9" />
<line x1="399.30" y1="242.10" x2="399.30" y2="256.11" stroke="#2b2b2b" stroke-width="0.9" />
<line x1="397.60" y1="242.10" x2="401.00" y2="242.10" stroke="#2b2b2b" stroke-width="0.9" />
<line x1="397.60" y1="256.11" x2="401.00" y2="256.11" stroke="#2b2b2b" stroke-width="0.9" />
<line x1="428.60" y1="222.08" x2="428.60" y2="239.60" stroke="#2b2b2b" stroke-width="0.9" />
<line x1="426.90" y1="222.08" x2="430.30" y2="222.08" stroke="#2b2b2b" stroke-width="0.9" />
<line x1="426.90" y1="239.60" x2="430.30" y2="239.60" stroke="#2b2b2b" stroke-width="0.9" />
<line x1="369.90" y1="276.31" x2="369.90" y2="281.30" stroke="#2b2b2b" stroke-width="0.9" />
<line x1="368.20" y1="276.31" x2="371.60" y2="276.31" stroke="#2b2b2b" stroke-width="0.9" />
<line x1="368.20" y1="281.30" x2="371.60" y2="281.30" stroke="#2b2b2b" stroke-width="0.9" />
<line x1="399.30" y1="258.39" x2="399.30" y2="272.41" stroke="#2b2b2b" stroke-width="0.9" />
<line x1="397.60" y1="258.39" x2="401.00" y2="258.39" stroke="#2b2b2b" stroke-width="0.9" />
<line x1="397.60" y1="272.41" x2="401.00" y2="272.41" stroke="#2b2b2b" stroke-width="0.9" />
<rect x="339.15" y="278.71" width="2.9" height="2.9" fill="#c2c2c2"/>
<rect x="368.45" y="268.86" width="2.9" height="2.9" fill="#c2c2c2"/>
<rect x="397.85" y="247.66" width="2.9" height="2.9" fill="#c2c2c2"/>
<rect x="427.15" y="229.74" width="2.9" height="2.9" fill="#c2c2c2"/>
<circle cx="340.60" cy="280.16" r="1.9" fill="#3a2150"/>
<circle cx="369.90" cy="278.80" r="1.9" fill="#3a2150"/>
<circle cx="399.30" cy="265.40" r="1.9" fill="#3a2150"/>
<circle cx="428.60" cy="253.40" r="1.9" fill="#3a2150"/>
<text x="340.60" y="306.00" font-size="7.3" text-anchor="middle" >Day</text>
<text x="340.60" y="315.10" font-size="7.3" text-anchor="middle" >0</text>
<text x="369.90" y="306.00" font-size="7.3" text-anchor="middle" >Day</text>
<text x="369.90" y="315.10" font-size="7.3" text-anchor="middle" >+1</text>
<text x="399.30" y="306.00" font-size="7.3" text-anchor="middle" >Day</text>
<text x="399.30" y="315.10" font-size="7.3" text-anchor="middle" >+2</text>
<text x="428.60" y="306.00" font-size="7.3" text-anchor="middle" >Day</text>
<text x="428.60" y="315.10" font-size="7.3" text-anchor="middle" >+3</text>
<text transform="translate(305.50,278.71) rotate(-90)" x="0" y="0" font-size="8.0" textLength="29.14" lengthAdjust="spacingAndGlyphs" style="stroke-width:0.3px">Cell counts</text>
<text transform="translate(305.50,246.89) rotate(-90)" x="0" y="0" font-size="7.8" textLength="31.20" lengthAdjust="spacingAndGlyphs" style="stroke-width:0.25px">(× 10<tspan dy="-2.7" dx="0.3" font-size="5.6">5</tspan><tspan dy="2.7">/μL)</tspan></text>
<text x="406.20" y="216.50" font-size="6.8" textLength="33.5" lengthAdjust="spacingAndGlyphs" ><tspan font-style="italic">P</tspan> = .0246</text>
<line x1="316.00" y1="327.00" x2="331.00" y2="327.00" stroke="#cbcbcb" stroke-width="1.0" />
<rect x="322.20" y="325.70" width="2.6" height="2.6" fill="#c2c2c2"/>
<text x="334.20" y="329.70" font-size="7.5" textLength="34" lengthAdjust="spacingAndGlyphs" >sh Control</text>
<line x1="375.00" y1="327.00" x2="389.00" y2="327.00" stroke="#523072" stroke-width="1.3" />
<circle cx="382.00" cy="327.00" r="1.6" fill="#3a2150"/>
<text x="392.20" y="329.70" font-size="7.5" textLength="64" lengthAdjust="spacingAndGlyphs" >sh <tspan font-style="italic">CDCA8</tspan>/<tspan font-style="italic">BIRC5</tspan></text>
<text x="34.60" y="380.00" font-size="7.4" text-anchor="middle" textLength="49.5" lengthAdjust="spacingAndGlyphs" >OCI-Ly18 cells</text>
<text x="34.70" y="389.40" font-size="7.4" text-anchor="middle" textLength="35.5" lengthAdjust="spacingAndGlyphs" >Inoculation</text>
<text x="102.70" y="380.00" font-size="7.4" text-anchor="middle" textLength="29.5" lengthAdjust="spacingAndGlyphs" >grouping</text>
<text x="103.00" y="389.20" font-size="7.4" text-anchor="middle" textLength="22" lengthAdjust="spacingAndGlyphs" >(n = 6)</text>
<text x="209.50" y="379.80" font-size="7.4" text-anchor="middle" textLength="43" lengthAdjust="spacingAndGlyphs" >Sacrifice and</text>
<text x="209.50" y="389.20" font-size="7.4" text-anchor="middle" textLength="51" lengthAdjust="spacingAndGlyphs" >tumor resection</text>
<line x1="15.00" y1="398.50" x2="222.00" y2="398.50" stroke="#231f20" stroke-width="1.0" />
<path d="M221,396 L228,398.5 L221,401 Z" fill="#231f20"/>
<line x1="34.80" y1="394.80" x2="34.80" y2="402.50" stroke="#231f20" stroke-width="1.0" />
<line x1="102.80" y1="394.80" x2="102.80" y2="402.50" stroke="#231f20" stroke-width="1.0" />
<line x1="209.50" y1="394.80" x2="209.50" y2="402.50" stroke="#231f20" stroke-width="1.0" />
<text x="34.70" y="412.20" font-size="7.4" text-anchor="middle" textLength="19.5" lengthAdjust="spacingAndGlyphs" >Day 0</text>
<text x="103.20" y="412.20" font-size="7.4" text-anchor="middle" textLength="18.5" lengthAdjust="spacingAndGlyphs" >Day 8</text>
<text x="209.30" y="412.20" font-size="7.4" text-anchor="middle" textLength="23.5" lengthAdjust="spacingAndGlyphs" >Day 28</text>
<text x="30.00" y="428.50" font-size="7.4" textLength="74" lengthAdjust="spacingAndGlyphs" >sh Control/sh <tspan font-style="italic">CDCA8</tspan></text>
<text x="30.00" y="437.60" font-size="7.4" textLength="36" lengthAdjust="spacingAndGlyphs" >tumor cells</text>
<text x="143.60" y="441.20" font-size="7.5" text-anchor="middle" style="fill:#8e6474;stroke:#8e6474" textLength="19.5" lengthAdjust="spacingAndGlyphs" >Tumor</text>
<g transform="translate(8.2,425.2) rotate(48.6)">
 <rect x="-0.2" y="-2.2" width="1.1" height="4.4" fill="#8a8a8a"/>
 <rect x="0.8" y="-0.55" width="6" height="1.1" fill="#a8a8a8"/>
 <rect x="6.4" y="-3.0" width="1.1" height="6.0" fill="#8a8a8a"/>
 <rect x="7.4" y="-2.1" width="15.2" height="4.2" fill="#efefef" stroke="#8a8a8a" stroke-width="0.5"/>
 <rect x="11.3" y="-1.75" width="11.1" height="3.5" fill="#c9a23a"/>
 <rect x="11.3" y="-1.75" width="11.1" height="1.2" fill="#dcc070" opacity="0.7"/>
 <path d="M22.6,-1.5 L25.2,-0.6 L25.2,0.6 L22.6,1.5 Z" fill="#7a6a2a"/>
 <line x1="25.2" y1="0" x2="32.2" y2="0" stroke="#5a5a5a" stroke-width="0.55"/>
</g>
<circle cx="22.9" cy="427.1" r="3.8" fill="#d8a55e"/><circle cx="21.8" cy="426.2" r="1.0" fill="#e8c080" opacity="0.8"/><circle cx="24.2" cy="428.2" r="0.9" fill="#c08a40" opacity="0.8"/><circle cx="23.8" cy="425.6" r="0.7" fill="#e6bd78" opacity="0.8"/><circle cx="21.6" cy="428.6" r="0.7" fill="#c9944a" opacity="0.8"/>
<g transform="translate(0,0)"><path d="M28,456.2 C24,456 20.2,458 20.3,460.8 C20.5,463 28,462.8 34,462.4 C37,462.1 39,461.6 41.2,461.2" fill="none" stroke="#a88888" stroke-width="0.75"/><path d="M59.1,449.7 C57,448 55.5,447 54,446.6 C52,446 50,446 48,446.2 C42,445.6 36,445.8 32,447 C28.5,448.2 26.8,451 27,454 C27.2,456.5 28.5,458 31,458.6 L36,458.8 C40,458.8 44,458 47,457 C49,457.5 50.5,458.5 52.5,459.2 L53.6,458.6 C52.6,457.6 52.2,456 53.6,454.5 C55.5,452.6 57.5,451 59.1,449.7 Z" fill="url(#mouseg)" stroke="#b8b8c2" stroke-width="0.5"/><path d="M30.5,458.3 C33,459.6 36,459.9 38.2,459.6" fill="none" stroke="#a8a8b0" stroke-width="0.6"/><ellipse cx="49.8" cy="445.7" rx="2.1" ry="1.8" fill="#e2d6da" stroke="#b0a0a8" stroke-width="0.4"/><ellipse cx="49.4" cy="446.0" rx="1.0" ry="0.9" fill="#b8a4ac"/><circle cx="54" cy="448.8" r="0.6" fill="#555"/><circle cx="59" cy="449.8" r="0.45" fill="#caa"/></g>
<g transform="translate(114.6,-0.2)"><path d="M28,456.2 C24,456 20.2,458 20.3,460.8 C20.5,463 28,462.8 34,462.4 C37,462.1 39,461.6 41.2,461.2" fill="none" stroke="#a88888" stroke-width="0.75"/><path d="M59.1,449.7 C57,448 55.5,447 54,446.6 C52,446 50,446 48,446.2 C42,445.6 36,445.8 32,447 C28.5,448.2 26.8,451 27,454 C27.2,456.5 28.5,458 31,458.6 L36,458.8 C40,458.8 44,458 47,457 C49,457.5 50.5,458.5 52.5,459.2 L53.6,458.6 C52.6,457.6 52.2,456 53.6,454.5 C55.5,452.6 57.5,451 59.1,449.7 Z" fill="url(#mouseg)" stroke="#b8b8c2" stroke-width="0.5"/><path d="M30.5,458.3 C33,459.6 36,459.9 38.2,459.6" fill="none" stroke="#a8a8b0" stroke-width="0.6"/><ellipse cx="49.8" cy="445.7" rx="2.1" ry="1.8" fill="#e2d6da" stroke="#b0a0a8" stroke-width="0.4"/><ellipse cx="49.4" cy="446.0" rx="1.0" ry="0.9" fill="#b8a4ac"/><circle cx="54" cy="448.8" r="0.6" fill="#555"/><circle cx="59" cy="449.8" r="0.45" fill="#caa"/></g>
<circle cx="143.2" cy="450.5" r="6.2" fill="#f2f2f4" fill-opacity="0.6" stroke="#8a8a8a" stroke-width="0.7" stroke-dasharray="0.9,0.7"/>
<path d="M139.5,449 C141,447 145,447 146.5,449.5" fill="none" stroke="#c8c8cc" stroke-width="0.5"/>
<g>
 <rect x="157.4" y="422.6" width="29.2" height="3.5" fill="#d2d2d2" stroke="#6a6a6a" stroke-width="0.5"/>
 <line x1="186.5" y1="424.35" x2="190.6" y2="424.35" stroke="#777" stroke-width="0.6"/>
 <path d="M138.6,419.2 L139.9,419.2 L140.2,421.5 L141.2,421.5 L141.5,419.2 L142.8,419.2 L143.3,427 L143.3,431 L141.2,433 L140.2,433 L138.6,427 Z" fill="#6a6a6a" stroke="#333" stroke-width="0.5"/>
 <path d="M143.8,421 L147.3,421 L147.3,431.2 L145.6,433.2 L144.8,433.2 L143.8,428 Z" fill="#707070" stroke="#333" stroke-width="0.5"/>
 <rect x="143.8" y="420.9" width="13.8" height="5.2" fill="#666" stroke="#333" stroke-width="0.4"/>
 <rect x="145.4" y="421.8" width="6" height="2.8" fill="#c9c9b2"/>
 <circle cx="154.5" cy="423.4" r="0.9" fill="#888"/>
</g>
<line x1="290.50" y1="365.80" x2="290.50" y2="448.70" stroke="#231f20" stroke-width="1.0" />
<line x1="287.70" y1="448.70" x2="290.50" y2="448.70" stroke="#231f20" stroke-width="0.9" />
<text x="284.90" y="451.45" font-size="6.4" text-anchor="end" textLength="4.45" lengthAdjust="spacingAndGlyphs" >0</text>
<line x1="287.70" y1="438.65" x2="290.50" y2="438.65" stroke="#231f20" stroke-width="0.9" />
<text x="284.90" y="441.40" font-size="6.4" text-anchor="end" textLength="13.34" lengthAdjust="spacingAndGlyphs" >200</text>
<line x1="287.70" y1="428.60" x2="290.50" y2="428.60" stroke="#231f20" stroke-width="0.9" />
<text x="284.90" y="431.35" font-size="6.4" text-anchor="end" textLength="13.34" lengthAdjust="spacingAndGlyphs" >400</text>
<line x1="287.70" y1="418.55" x2="290.50" y2="418.55" stroke="#231f20" stroke-width="0.9" />
<text x="284.90" y="421.30" font-size="6.4" text-anchor="end" textLength="13.34" lengthAdjust="spacingAndGlyphs" >600</text>
<line x1="287.70" y1="408.50" x2="290.50" y2="408.50" stroke="#231f20" stroke-width="0.9" />
<text x="284.90" y="411.25" font-size="6.4" text-anchor="end" textLength="13.34" lengthAdjust="spacingAndGlyphs" >800</text>
<line x1="287.70" y1="398.45" x2="290.50" y2="398.45" stroke="#231f20" stroke-width="0.9" />
<text x="284.90" y="401.20" font-size="6.4" text-anchor="end" textLength="17.79" lengthAdjust="spacingAndGlyphs" >1000</text>
<line x1="287.70" y1="388.40" x2="290.50" y2="388.40" stroke="#231f20" stroke-width="0.9" />
<text x="284.90" y="391.15" font-size="6.4" text-anchor="end" textLength="17.79" lengthAdjust="spacingAndGlyphs" >1200</text>
<line x1="287.70" y1="378.35" x2="290.50" y2="378.35" stroke="#231f20" stroke-width="0.9" />
<text x="284.90" y="381.10" font-size="6.4" text-anchor="end" textLength="17.79" lengthAdjust="spacingAndGlyphs" >1400</text>
<line x1="287.70" y1="368.30" x2="290.50" y2="368.30" stroke="#231f20" stroke-width="0.9" />
<text x="284.90" y="371.05" font-size="6.4" text-anchor="end" textLength="17.79" lengthAdjust="spacingAndGlyphs" >1600</text>
<line x1="287.90" y1="448.70" x2="408.00" y2="448.70" stroke="#231f20" stroke-width="1.0" />
<line x1="300.50" y1="448.70" x2="300.50" y2="451.00" stroke="#231f20" stroke-width="0.9" />
<line x1="320.20" y1="448.70" x2="320.20" y2="451.00" stroke="#231f20" stroke-width="0.9" />
<line x1="339.50" y1="448.70" x2="339.50" y2="451.00" stroke="#231f20" stroke-width="0.9" />
<line x1="359.00" y1="448.70" x2="359.00" y2="451.00" stroke="#231f20" stroke-width="0.9" />
<line x1="378.60" y1="448.70" x2="378.60" y2="451.00" stroke="#231f20" stroke-width="0.9" />
<line x1="398.20" y1="448.70" x2="398.20" y2="451.00" stroke="#231f20" stroke-width="0.9" />
<text x="300.50" y="461.60" font-size="7.3" text-anchor="middle" >1</text>
<text x="320.20" y="461.60" font-size="7.3" text-anchor="middle" >4</text>
<text x="339.50" y="461.60" font-size="7.3" text-anchor="middle" >8</text>
<text x="359.00" y="461.60" font-size="7.3" text-anchor="middle" >12</text>
<text x="378.60" y="461.60" font-size="7.3" text-anchor="middle" >16</text>
<text x="398.20" y="461.60" font-size="7.3" text-anchor="middle" >20</text>
<text x="349.40" y="473.90" font-size="8.9" text-anchor="middle" textLength="13.4" lengthAdjust="spacingAndGlyphs" style="stroke-width:0.45px">Days</text>
<polyline points="300.50,448.70 320.20,444.88 339.50,442.42 359.00,429.20 378.60,403.78 398.20,382.42" fill="none" stroke="#cbcbcb" stroke-width="1.2" stroke-linejoin="round"/>
<polyline points="300.50,448.70 320.20,447.69 339.50,446.99 359.00,439.60 378.60,427.59 398.20,412.62" fill="none" stroke="#b01a48" stroke-width="1.45" stroke-linejoin="round"/>
<line x1="320.20" y1="443.47" x2="320.20" y2="446.29" stroke="#2b2b2b" stroke-width="0.9" />
<line x1="318.50" y1="443.47" x2="321.90" y2="443.47" stroke="#2b2b2b" stroke-width="0.9" />
<line x1="318.50" y1="446.29" x2="321.90" y2="446.29" stroke="#2b2b2b" stroke-width="0.9" />
<line x1="339.50" y1="438.50" x2="339.50" y2="446.34" stroke="#2b2b2b" stroke-width="0.9" />
<line x1="337.80" y1="438.50" x2="341.20" y2="438.50" stroke="#2b2b2b" stroke-width="0.9" />
<line x1="337.80" y1="446.34" x2="341.20" y2="446.34" stroke="#2b2b2b" stroke-width="0.9" />
<line x1="359.00" y1="422.72" x2="359.00" y2="435.69" stroke="#2b2b2b" stroke-width="0.9" />
<line x1="357.30" y1="422.72" x2="360.70" y2="422.72" stroke="#2b2b2b" stroke-width="0.9" />
<line x1="357.30" y1="435.69" x2="360.70" y2="435.69" stroke="#2b2b2b" stroke-width="0.9" />
<line x1="378.60" y1="391.77" x2="378.60" y2="415.79" stroke="#2b2b2b" stroke-width="0.9" />
<line x1="376.90" y1="391.77" x2="380.30" y2="391.77" stroke="#2b2b2b" stroke-width="0.9" />
<line x1="376.90" y1="415.79" x2="380.30" y2="415.79" stroke="#2b2b2b" stroke-width="0.9" />
<line x1="398.20" y1="374.43" x2="398.20" y2="390.41" stroke="#2b2b2b" stroke-width="0.9" />
<line x1="396.50" y1="374.43" x2="399.90" y2="374.43" stroke="#2b2b2b" stroke-width="0.9" />
<line x1="396.50" y1="390.41" x2="399.90" y2="390.41" stroke="#2b2b2b" stroke-width="0.9" />
<line x1="359.00" y1="434.98" x2="359.00" y2="444.23" stroke="#2b2b2b" stroke-width="0.9" />
<line x1="357.30" y1="434.98" x2="360.70" y2="434.98" stroke="#2b2b2b" stroke-width="0.9" />
<line x1="357.30" y1="444.23" x2="360.70" y2="444.23" stroke="#2b2b2b" stroke-width="0.9" />
<line x1="378.60" y1="417.19" x2="378.60" y2="438.00" stroke="#2b2b2b" stroke-width="0.9" />
<line x1="376.90" y1="417.19" x2="380.30" y2="417.19" stroke="#2b2b2b" stroke-width="0.9" />
<line x1="376.90" y1="438.00" x2="380.30" y2="438.00" stroke="#2b2b2b" stroke-width="0.9" />
<line x1="398.20" y1="396.14" x2="398.20" y2="429.10" stroke="#2b2b2b" stroke-width="0.9" />
<line x1="396.50" y1="396.14" x2="399.90" y2="396.14" stroke="#2b2b2b" stroke-width="0.9" />
<line x1="396.50" y1="429.10" x2="399.90" y2="429.10" stroke="#2b2b2b" stroke-width="0.9" />
<rect x="299.05" y="447.25" width="2.9" height="2.9" fill="#c2c2c2"/>
<rect x="318.75" y="443.43" width="2.9" height="2.9" fill="#c2c2c2"/>
<rect x="338.05" y="440.97" width="2.9" height="2.9" fill="#c2c2c2"/>
<rect x="357.55" y="427.75" width="2.9" height="2.9" fill="#c2c2c2"/>
<rect x="377.15" y="402.33" width="2.9" height="2.9" fill="#c2c2c2"/>
<rect x="396.75" y="380.97" width="2.9" height="2.9" fill="#c2c2c2"/>
<circle cx="300.50" cy="448.70" r="1.9" fill="#8a1038"/>
<circle cx="320.20" cy="447.69" r="1.9" fill="#8a1038"/>
<circle cx="339.50" cy="446.99" r="1.9" fill="#8a1038"/>
<circle cx="359.00" cy="439.60" r="1.9" fill="#8a1038"/>
<circle cx="378.60" cy="427.59" r="1.9" fill="#8a1038"/>
<circle cx="398.20" cy="412.62" r="1.9" fill="#8a1038"/>
<text transform="translate(260.80,437.30) rotate(-90)" x="0" y="0" font-size="9.4" textLength="39.73" lengthAdjust="spacingAndGlyphs" style="stroke-width:0.3px">Tumor volume</text>
<text transform="translate(260.80,394.56) rotate(-90)" x="0" y="0" font-size="9.2" textLength="18.06" lengthAdjust="spacingAndGlyphs" style="stroke-width:0.25px">(mm<tspan dy="-3.2" font-size="6.6">3</tspan><tspan dy="3.2">)</tspan></text>
<text x="380.40" y="368.80" font-size="6.8" textLength="34" lengthAdjust="spacingAndGlyphs" ><tspan font-style="italic">P</tspan> = .0044</text>
<line x1="294.00" y1="487.00" x2="307.50" y2="487.00" stroke="#cbcbcb" stroke-width="1.0" />
<rect x="299.45" y="485.70" width="2.6" height="2.6" fill="#c2c2c2"/>
<text x="310.70" y="489.70" font-size="7.5" textLength="34" lengthAdjust="spacingAndGlyphs" >sh Control</text>
<line x1="351.00" y1="487.00" x2="366.00" y2="487.00" stroke="#b01a48" stroke-width="1.3" />
<circle cx="358.50" cy="487.00" r="1.6" fill="#8a1038"/>
<text x="369.20" y="489.70" font-size="7.5" textLength="37" lengthAdjust="spacingAndGlyphs" >sh <tspan font-style="italic">CDCA8</tspan></text>
<line x1="459.90" y1="365.80" x2="459.90" y2="449.00" stroke="#231f20" stroke-width="1.0" />
<line x1="457.10" y1="449.00" x2="459.90" y2="449.00" stroke="#231f20" stroke-width="0.9" />
<text x="454.50" y="451.75" font-size="6.4" text-anchor="end" textLength="10.5" lengthAdjust="spacingAndGlyphs" >0.0</text>
<line x1="457.10" y1="428.80" x2="459.90" y2="428.80" stroke="#231f20" stroke-width="0.9" />
<text x="454.50" y="431.55" font-size="6.4" text-anchor="end" textLength="10.5" lengthAdjust="spacingAndGlyphs" >0.5</text>
<line x1="457.10" y1="408.60" x2="459.90" y2="408.60" stroke="#231f20" stroke-width="0.9" />
<text x="454.50" y="411.35" font-size="6.4" text-anchor="end" textLength="10.5" lengthAdjust="spacingAndGlyphs" >1.0</text>
<line x1="457.10" y1="388.40" x2="459.90" y2="388.40" stroke="#231f20" stroke-width="0.9" />
<text x="454.50" y="391.15" font-size="6.4" text-anchor="end" textLength="10.5" lengthAdjust="spacingAndGlyphs" >1.5</text>
<line x1="457.10" y1="368.20" x2="459.90" y2="368.20" stroke="#231f20" stroke-width="0.9" />
<text x="454.50" y="370.95" font-size="6.4" text-anchor="end" textLength="10.5" lengthAdjust="spacingAndGlyphs" >2.0</text>
<line x1="457.30" y1="449.00" x2="513.50" y2="449.00" stroke="#231f20" stroke-width="1.0" />
<line x1="475.00" y1="449.00" x2="475.00" y2="451.30" stroke="#231f20" stroke-width="0.9" />
<line x1="498.00" y1="449.00" x2="498.00" y2="451.30" stroke="#231f20" stroke-width="0.9" />
<text transform="translate(437.20,431.54) rotate(-90)" x="0" y="0" font-size="8.8" textLength="38.48" lengthAdjust="spacingAndGlyphs" style="stroke-width:0.3px">Tumor weight</text>
<text transform="translate(437.20,390.89) rotate(-90)" x="0" y="0" font-size="8.8" textLength="8.23" lengthAdjust="spacingAndGlyphs" style="stroke-width:0.25px">(g)</text>
<text x="469.80" y="369.00" font-size="6.8" textLength="34" lengthAdjust="spacingAndGlyphs" ><tspan font-style="italic">P</tspan> = .0226</text>
<path d="M475,386.3 L475,381.8 L498,381.8 L498,405.6" fill="none" stroke="#444" stroke-width="0.9"/>
<text x="486.50" y="380.00" font-size="6.5" text-anchor="middle" >*</text>
<circle cx="475.00" cy="390.80" r="1.1" fill="#bdbdbd"/>
<circle cx="475.00" cy="400.20" r="1.1" fill="#bdbdbd"/>
<circle cx="475.00" cy="408.00" r="1.1" fill="#bdbdbd"/>
<circle cx="472.40" cy="411.40" r="1.1" fill="#bdbdbd"/>
<circle cx="477.50" cy="412.70" r="1.1" fill="#bdbdbd"/>
<circle cx="475.00" cy="425.40" r="1.1" fill="#bdbdbd"/>
<line x1="467.20" y1="409.40" x2="482.60" y2="409.40" stroke="#bdbdbd" stroke-width="1.0" />
<circle cx="498.00" cy="411.00" r="1.35" fill="#a8123e"/>
<circle cx="498.00" cy="419.00" r="1.35" fill="#a8123e"/>
<circle cx="495.90" cy="427.00" r="1.35" fill="#a8123e"/>
<circle cx="500.60" cy="426.00" r="1.35" fill="#a8123e"/>
<circle cx="498.00" cy="431.00" r="1.35" fill="#a8123e"/>
<circle cx="498.00" cy="441.80" r="1.35" fill="#a8123e"/>
<line x1="490.30" y1="426.30" x2="505.80" y2="426.30" stroke="#b0143f" stroke-width="1.0" />
<text transform="translate(478.2,458.0) rotate(-45)" x="0" y="0" font-size="7.9" text-anchor="end" textLength="34.5" lengthAdjust="spacingAndGlyphs">sh Control</text>
<text transform="translate(501.4,458.3) rotate(-45)" x="0" y="0" font-size="7.9" text-anchor="end" textLength="36.5" lengthAdjust="spacingAndGlyphs">sh CDCA8</text>
<rect x="0.5" y="0.5" width="519" height="497" fill="none" stroke="#666" stroke-width="1"/>
</svg>
</body></html>
